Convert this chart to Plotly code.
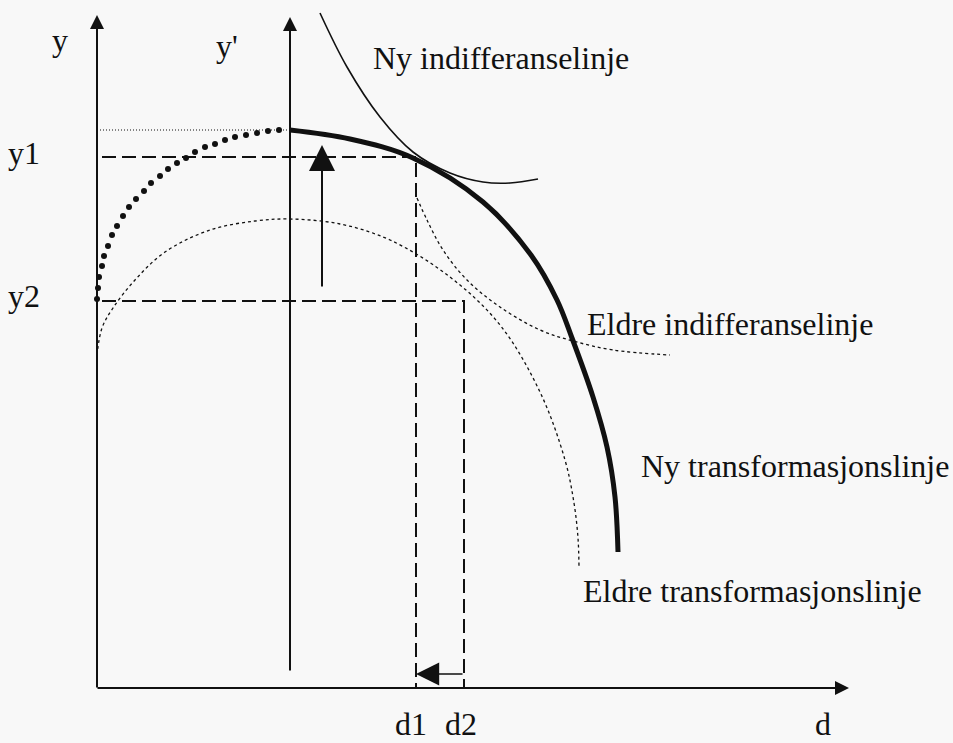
import plotly.graph_objects as go

# ---- data (diagram units: x to the right, y downward) ----
# New transformation curve (thick)
new_trans_x = [290, 350, 413, 483, 531, 557, 572, 593, 607, 615, 618]
new_trans_y = [130, 139, 158, 202, 255, 300, 338, 397, 447, 497, 552]

# Dotted (large dots) left part of the new transformation curve
new_dots_x = [279, 268, 257, 246, 235, 225, 215, 205, 195, 186, 177, 168, 160, 151, 144, 136, 129, 123, 117, 112, 108, 104, 102, 99, 98, 97]
new_dots_y = [130, 131, 133, 135, 137, 140, 144, 147, 152, 158, 163, 169, 176, 183, 191, 199, 207, 216, 226, 235, 246, 256, 266, 277, 288, 299]

# Old transformation curve (thin dotted)
old_trans_x = [97, 102, 113, 135, 165, 210, 255, 290, 340, 390, 450, 500, 540, 565, 574, 578, 579]
old_trans_y = [355, 328, 308, 280, 252, 230, 221, 219, 224, 240, 277, 325, 392, 460, 503, 538, 567]

# New indifference curve (thin solid)
new_ind_x = [320, 347, 380, 413, 450, 483, 510, 538]
new_ind_y = [13, 67, 117, 152, 173, 182, 183, 179]

# Old indifference curve (thin dotted)
old_ind_x = [417, 427, 443, 467, 500, 540, 573, 613, 670]
old_ind_y = [198, 220, 250, 280, 307, 330, 341, 350, 355]

# Key levels
y_top, y1, y2 = 130, 157, 301
d1, d2 = 416, 464
x_axis_y = 688
y_axis_x, yp_axis_x = 97, 290

tick_labels = ["y", "y'", "y1", "y2", "d1", "d2", "d"]
curve_labels = ["Ny indifferanselinje", "Eldre indifferanselinje",
                "Ny transformasjonslinje", "Eldre transformasjonslinje"]

# ---- figure ----
W, H = 953, 743
BG = "#f8f8f8"
INK = "#111111"
FONT = "'Liberation Serif', 'DejaVu Serif', serif"

fig = go.Figure()

def line(x, y, width, dash="solid", shape="linear"):
    fig.add_trace(go.Scatter(x=x, y=y, mode="lines",
                             line=dict(color=INK, width=width, dash=dash, shape=shape,
                                       smoothing=1.0),
                             hoverinfo="skip", showlegend=False))

# thin dotted top line
line([y_axis_x, yp_axis_x], [y_top, y_top], 1, dash="1px,2px")
# dashed guide lines
line([y_axis_x + 5, d1, d1], [y1, y1, x_axis_y], 2, dash="14px,6px")
line([y_axis_x + 5, d2, d2], [y2, y2, x_axis_y], 2, dash="14px,6px")
# curves
line(old_trans_x, old_trans_y, 1.3, dash="3px,3px", shape="spline")
line(old_ind_x, old_ind_y, 1.3, dash="3px,3px", shape="spline")
line(new_ind_x, new_ind_y, 1.6, shape="spline")
line(new_trans_x, new_trans_y, 5, shape="spline")
fig.add_trace(go.Scatter(x=new_dots_x, y=new_dots_y, mode="markers",
                         marker=dict(color=INK, size=6, line=dict(width=0)),
                         hoverinfo="skip", showlegend=False))

annotations = []

def arrow(x0, y0, x1, y1_, width, size):
    annotations.append(dict(x=x1, y=y1_, ax=x0, ay=y0, xref="x", yref="y",
                            axref="x", ayref="y", text="", showarrow=True,
                            arrowhead=2, arrowwidth=width, arrowsize=size,
                            arrowcolor=INK, standoff=0, startstandoff=0))

# axes
arrow(y_axis_x, x_axis_y + 1, y_axis_x, 15, 2, 1.4)
arrow(yp_axis_x, 672, yp_axis_x, 17, 2, 1.4)
arrow(y_axis_x - 1, x_axis_y, 849, x_axis_y, 2, 1.4)
# shift arrows
arrow(322, 288, 322, 145, 2, 2.6)
arrow(d2, 674, d1, 674, 1.6, 2.9)

def label(text, x, y, size=32, xanchor="center", yanchor="middle"):
    annotations.append(dict(x=x, y=y, xref="x", yref="y", text=text, showarrow=False,
                            xanchor=xanchor, yanchor=yanchor, borderpad=0,
                            font=dict(family=FONT, size=size, color=INK)))

label(tick_labels[0], 60, 40)
label(tick_labels[1], 227, 46)
label(tick_labels[2], 24, 153)
label(tick_labels[3], 24, 296)
label(tick_labels[4], 411, 743, yanchor="bottom")
label(tick_labels[5], 461, 743, yanchor="bottom")
label(tick_labels[6], 823, 743, yanchor="bottom")

label(curve_labels[0], 372, 58, xanchor="left")
label(curve_labels[1], 586, 324, xanchor="left")
label(curve_labels[2], 640, 466, xanchor="left")
label(curve_labels[3], 582, 591, xanchor="left")

fig.update_layout(
    width=W, height=H,
    margin=dict(l=0, r=0, t=0, b=0, pad=0),
    paper_bgcolor=BG, plot_bgcolor=BG,
    xaxis=dict(range=[0, W], visible=False, fixedrange=True),
    yaxis=dict(range=[H, 0], visible=False, fixedrange=True),
    annotations=annotations,
    showlegend=False,
)

fig.write_html("out.html", config={"displayModeBar": False},
               post_script="document.body.style.margin='0';document.body.style.background='%s';" % BG)
